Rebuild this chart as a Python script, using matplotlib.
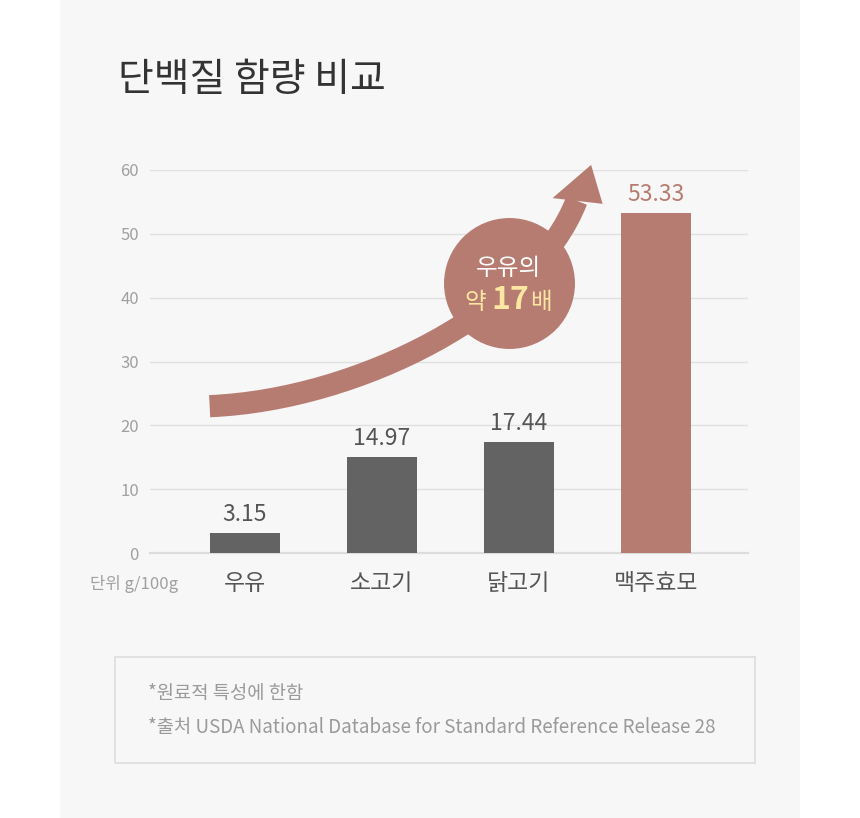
import numpy as np
import matplotlib.pyplot as plt
from matplotlib.patches import Rectangle
from matplotlib.path import Path
from matplotlib.patches import PathPatch, Polygon

plt.rcParams['font.family'] = ['Noto Sans CJK KR', 'DejaVu Sans']

# data
foods = ['우유', '소고기', '닭고기', '맥주효모']
protein = [3.15, 14.97, 17.44, 53.33]
yticks = [0, 10, 20, 30, 40, 50, 60]
notes = ['*원료적 특성에 한함',
         '*출처 USDA National Database for Standard Reference Release 28']

dark = '#636363'
accent = '#b77c71'
panel = '#f7f7f7'

fig = plt.figure(figsize=(8.6, 8.18), dpi=100)
fig.patch.set_facecolor('white')
fig.patches.append(Rectangle((60/860, 0), 740/860, 1, transform=fig.transFigure,
                             facecolor=panel, edgecolor='none', zorder=-10))

ax = fig.add_axes([150/860, 1 - 553/818, 598/860, 383/818])
ax.set_facecolor('none')
x = np.arange(len(foods))
colors = [dark] * (len(foods) - 1) + [accent]
ax.bar(x, protein, width=0.51, color=colors, zorder=3)

for xi, v, c in zip(x, protein, colors):
    ax.annotate(f'{v:.2f}', (xi, v), xytext=(0, 5), textcoords='offset points',
                ha='center', va='bottom', fontsize=16.5,
                color=c if c == accent else '#555555', zorder=5)

ax.set_xlim(-0.69, 3.67)
ax.set_ylim(0, 60)
ax.set_yticks(yticks)
ax.set_xticks(x)
ax.set_xticklabels(foods, fontsize=16.5, color='#555555', fontweight='medium')
ax.tick_params(axis='x', length=0, pad=14)
ax.tick_params(axis='y', length=0, pad=8, labelsize=12, labelcolor='#a0a0a0')
ax.grid(axis='y', color='#e0e0e0', lw=1, zorder=0)
for s in ['top', 'right', 'left']:
    ax.spines[s].set_visible(False)
ax.spines['bottom'].set_color('#dcdcdc')
ax.spines['bottom'].set_linewidth(1.6)

# curved arrow
verts = [(-0.255, 23.0), (0.84, 24.0), (2.117, 38.2), (2.42, 55.2)]
curve = Path(verts, [Path.MOVETO, Path.CURVE4, Path.CURVE4, Path.CURVE4])
ax.add_patch(PathPatch(curve, facecolor='none', edgecolor=accent, lw=16,
                       capstyle='butt', zorder=4, clip_on=False))
ax.add_patch(Polygon([(2.526, 60.8), (2.245, 55.6), (2.61, 54.7)], closed=True,
                     facecolor=accent, edgecolor='none', zorder=4, clip_on=False))
ax.scatter([1.927], [42.3], s=8700, color=accent, zorder=5, clip_on=False)
ax.text(1.927, 44.6, '우유의', ha='center', va='center', fontsize=17,
        color='white', zorder=6)
ax.text(1.68, 39.2, '약', ha='center', va='center', fontsize=17,
        color='#fbe6a2', zorder=6)
ax.text(1.94, 39.6, '17', ha='center', va='center', fontsize=23,
        fontweight='bold', color='#fbe6a2', zorder=6)
ax.text(2.16, 39.2, '배', ha='center', va='center', fontsize=17,
        color='#fbe6a2', zorder=6)

fig.text(118/860, 1 - 80/818, '단백질 함량 비교', fontsize=28, color='#333333',
         va='center', ha='left')
fig.text(178/860, 1 - 584/818, '단위 g/100g', fontsize=12, color='#a0a0a0',
         va='center', ha='right')

fig.patches.append(Rectangle((115/860, 1 - 763/818), 640/860, 106/818,
                             transform=fig.transFigure, facecolor='none',
                             edgecolor='#dddddd', lw=1.2))
fig.text(148/860, 1 - 694/818, notes[0], fontsize=13.5, color='#9a9a9a',
         va='center', ha='left', fontweight='light')
fig.text(148/860, 1 - 727/818, notes[1], fontsize=13.5, color='#9a9a9a',
         va='center', ha='left', fontweight='light')

fig.savefig('out.png', dpi=100, facecolor=fig.get_facecolor())
